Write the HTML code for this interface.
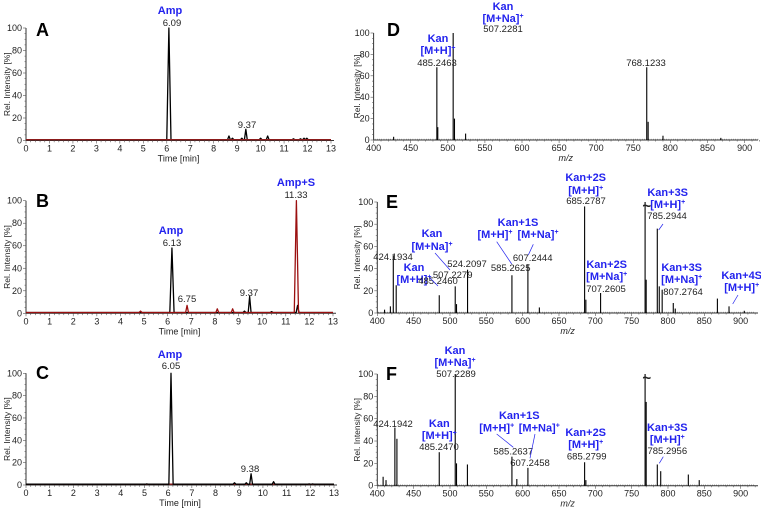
<!DOCTYPE html>
<html><head><meta charset="utf-8"><style>
html,body{margin:0;padding:0;background:#fff;}
svg{display:block;font-family:"Liberation Sans",Arial,sans-serif;}
.tk{font-size:9px;fill:#222;}
.ann{font-size:11px;font-weight:bold;fill:#2323ee;}
.num{font-size:9.5px;fill:#222;}
.let{font-size:18px;font-weight:bold;fill:#000;}
.yt{font-size:8.5px;fill:#222;}
</style></head><body>
<svg id="fig" width="761" height="508" viewBox="0 0 761 508"></svg>
<script>
// Chromatogram data (time min, relative intensity %)
const aBlackTimes=[6.09,8.65,8.8,9.2,9.37,10.0,10.3,11.4,11.7,11.85,11.97];
const aBlackVals=[100,4,2,2,10,2,4,1.5,1.5,2,2];
const bBlackTimes=[6.18,9.25,9.47,10.4,11.5];
const bBlackVals=[58,2,15,1.5,7];
const bRedTimes=[4.85,6.82,8.1,8.75,11.45];
const bRedVals=[2,7,4,4,100];
const cBlackTimes=[5.1,6.12,8.8,9.3,9.5,10.45,11.95,12.1];
const cBlackVals=[1,100,2,2,10,3,1,1];
// Mass spectra data (m/z, relative intensity %)
const dMz=[427,485.25,486.5,507.23,509,524,768.12,770,790,868];
const dVals=[3,68,12,100,20,6,68,17,4,2];
const eMz=[410,418,422,426,485.25,507.23,509,524.21,585.26,607.24,623,685.28,687,707.26,768.5,770,785.29,788,792,807.28,810,868,884,905];
const eVals=[3,6,52,25,16,24,8,39,34,44,5,96,12,18,100,30,76,24,21,9,4,13,6,2];
const fMz=[408,412,424.19,427,485.25,507.23,509,524,585.26,592,607.25,685.28,687,768.5,770,785.3,790,828,843];
const fVals=[8,5,52,42,30,100,20,19,26,6,16,21,5,100,75,19,13,10,5];
const chromTicks=[0,1,2,3,4,5,6,7,8,9,10,11,12,13];
const yTicks=[0,20,40,60,80,100];
const mzTicks=[400,450,500,550,600,650,700,750,800,850,900];

const NS="http://www.w3.org/2000/svg";
const svg=document.getElementById('fig');
function el(tag,attrs,parent,txt){const e=document.createElementNS(NS,tag);for(const k in attrs)e.setAttribute(k,attrs[k]);if(txt!==undefined)e.textContent=txt;(parent||svg).appendChild(e);return e;}

function axesY(g,x0,yb,yt){
  el('line',{x1:x0,y1:yb,x2:x0,y2:yt,stroke:'#333','stroke-width':1},g);
  for(let v=0;v<=100;v+=5){const y=yb-(yb-yt)*v/100;el('line',{x1:x0-(v%20==0?3:1.5),y1:y,x2:x0,y2:y,stroke:'#555','stroke-width':0.6},g);}
  yTicks.forEach(v=>{const y=yb-(yb-yt)*v/100;const t=el('text',{x:x0-4,y:y+3,'text-anchor':'end',class:'tk'},g,String(v));
  
  });
}
function yTitle(g,x,yc){const t=el('text',{x:x,y:yc,transform:`rotate(-90 ${x} ${yc})`,'text-anchor':'middle',class:'yt'},g,'Rel. Intensity [%]');
  
  }

function chrom(name,x0,x1,yb,yt,series){
  const g=el('g',{});
  
  
  const sx=t=>x0+(x1-x0)*t/13, sy=v=>yb-(yb-yt)*v/100;
  axesY(g,x0,yb,yt);
  yTitle(g,10,(yb+yt)/2);
  el('line',{x1:x0,y1:yb,x2:x1+3,y2:yb,stroke:'#333','stroke-width':1},g);
  for(let i=0;i<=130;i+=2){const t=i/10;el('line',{x1:sx(t),y1:yb,x2:sx(t),y2:yb+(i%10==0?3:1.8),stroke:'#555','stroke-width':0.6},g);}
  chromTicks.forEach(t=>{const l=el('text',{x:sx(t),y:yb+11,'text-anchor':'middle',class:'tk'},g,String(t));
    
    });
  const xt=el('text',{x:(x0+x1)/2,y:yb+21,'text-anchor':'middle',class:'tk'},g,'Time [min]');
  
  
  series.forEach(s=>{
    let d=`M${x0},${yb-0.8}`;
    const idx=s.t.map((t,i)=>i).sort((a,b)=>s.t[a]-s.t[b]);
    idx.forEach(i=>{const t=s.t[i],v=s.v[i],hw=v>30?0.09:0.06;d+=` L${sx(t-hw)},${yb-0.8} L${sx(t)},${sy(v)} L${sx(t+hw)},${yb-0.8}`;});
    d+=` L${x1},${yb-0.8}`;
    const p=el('path',{d:d,fill:'none',stroke:s.c,'stroke-width':1.3,'stroke-linejoin':'round'},g);
    
    
  });
  return g;
}
function spec(name,x400,ppu,yb,yt,mz,vals,xEnd){
  const g=el('g',{});
  
  
  const sx=m=>x400+(m-400)*ppu, sy=v=>yb-(yb-yt)*v/100;
  axesY(g,x400,yb,yt);
  yTitle(g,360,(yb+yt)/2);
  el('line',{x1:x400,y1:yb,x2:xEnd,y2:yb,stroke:'#333','stroke-width':1},g);
  for(let m=400;m<=920;m+=10){el('line',{x1:sx(m),y1:yb,x2:sx(m),y2:yb+(m%50==0?3:1.5),stroke:'#555','stroke-width':0.6},g);}
  mzTicks.forEach(m=>{const l=el('text',{x:sx(m),y:yb+11,'text-anchor':'middle',class:'tk'},g,String(m));
    
    });
  const xt=el('text',{x:(x400+xEnd)/2,y:yb+21,'text-anchor':'middle',class:'tk','font-style':'italic'},g,'m/z');
  
  
  let d='';for(let m=402;m<920;m+=3){d+=`M${sx(m)},${yb} L${sx(m)},${yb-1.2}`;}
  el('path',{d:d,stroke:'#444','stroke-width':0.5},g);
  mz.forEach((m,i)=>{const l=el('line',{x1:sx(m),y1:yb,x2:sx(m),y2:sy(vals[i]),stroke:'#000','stroke-width':1.1},g);
    
    });
  return g;
}
function txt(x,y,cls,s,name,anchor){const t=el('text',{x:x,y:y,class:cls,'text-anchor':anchor||'middle'});
  const parts=s.split('^');t.appendChild(document.createTextNode(parts[0]));
  if(parts[1]!==undefined){el('tspan',{dy:-4,'font-size':'7px'},t,parts[1]);}
  
  return t;}
function lead(x1,y1,x2,y2){const l=el('line',{x1:x1,y1:y1,x2:x2,y2:y2,stroke:'#2323ee','stroke-width':0.7});
  
  }

chrom('a',26,331,140.5,28,[{t:aBlackTimes,v:aBlackVals,c:'#000',n:'series-black'},{t:[],v:[],c:'#8b1a1a',n:'series-red'}]);
chrom('b',26,333,313.3,200.7,[{t:bBlackTimes,v:bBlackVals,c:'#000',n:'series-black'},{t:bRedTimes,v:bRedVals,c:'#9b1010',n:'series-red'}]);
chrom('c',26,334,485,373.3,[{t:[],v:[],c:'#8b1a1a',n:'series-red'},{t:cBlackTimes,v:cBlackVals,c:'#000',n:'series-black'}]);
spec('d',373.6,0.742,140,33,dMz,dVals,758);
spec('e',377.3,0.7267,313,202,eMz,eVals,758);
spec('f',377.3,0.7267,485.7,374,fMz,fVals,758);

txt(36,36,'let','A','panel-letter-a','start');
txt(36,207,'let','B','panel-letter-b','start');
txt(36,379,'let','C','panel-letter-c','start');
txt(387,36,'let','D','panel-letter-d','start');
txt(386,208,'let','E','panel-letter-e','start');
txt(386,380,'let','F','panel-letter-f','start');

txt(170,14,'ann','Amp','label-amp');txt(172,26,'num','6.09','label-6.09');txt(247,128,'num','9.37','label-9.37');
txt(296,186,'ann','Amp+S','label-amp-s');txt(296,198,'num','11.33','label-11.33');
txt(171,234,'ann','Amp','label-amp');txt(172,246,'num','6.13','label-6.13');
txt(187,302,'num','6.75','label-6.75');txt(249,296,'num','9.37','label-9.37');
txt(170,358,'ann','Amp','label-amp');txt(171,369,'num','6.05','label-6.05');txt(250,472,'num','9.38','label-9.38');
txt(503,10,'ann','Kan','label-kan');txt(503,22,'ann','[M+Na]^+','label-m-na');txt(503,32,'num','507.2281','label-507');
txt(438,42,'ann','Kan','label-kan');txt(438,54,'ann','[M+H]^+','label-m-h');txt(437,66,'num','485.2463','label-485');
txt(646,66,'num','768.1233','label-768');
txt(585.7,181,'ann','Kan+2S','label-kan-2s');txt(585.7,194,'ann','[M+H]^+','label-m-h');txt(586,204,'num','685.2787','label-685');
txt(667.7,196,'ann','Kan+3S','label-kan-3s');txt(667.7,208,'ann','[M+H]^+','label-m-h');txt(667,219,'num','785.2944','label-785');
lead(663,224,658.7,230);
txt(518,226,'ann','Kan+1S','label-kan-1s');txt(495,238,'ann','[M+H]^+','label-m-h');txt(538,238,'ann','[M+Na]^+','label-m-na');
txt(532.7,261,'num','607.2444','label-607');txt(510.7,271,'num','585.2625','label-585');
lead(496.7,241.7,511.7,264);lead(533.3,244.3,528.3,255);
txt(432,237,'ann','Kan','label-kan');txt(432,250,'ann','[M+Na]^+','label-m-na');lead(435,253,450,270);
txt(467,267,'num','524.2097','label-524');txt(452.7,278,'num','507.2279','label-507');
txt(414,271,'ann','Kan','label-kan');txt(414,283,'ann','[M+H]^+','label-m-h');txt(438,284,'num','485.2460','label-485');
lead(430,278,438,286);
txt(393,260,'num','424.1934','label-424');
txt(606.7,268,'ann','Kan+2S','label-kan-2s');txt(606.7,280,'ann','[M+Na]^+','label-m-na');txt(606,292,'num','707.2605','label-707');
txt(681.7,271,'ann','Kan+3S','label-kan-3s');txt(681.7,283,'ann','[M+Na]^+','label-m-na');txt(683,295,'num','807.2764','label-807');
txt(741.7,279,'ann','Kan+4S','label-kan-4s');txt(741.7,291,'ann','[M+H]^+','label-m-h');lead(738,295,732.7,304);
txt(646.7,211,'num','~','break-mark').setAttribute('style','font-size:15px;font-weight:bold');
txt(455,354,'ann','Kan','label-kan');txt(455,366,'ann','[M+Na]^+','label-m-na');txt(456,377,'num','507.2289','label-507');
txt(393,427,'num','424.1942','label-424');
txt(439.3,427,'ann','Kan','label-kan');txt(439.3,439,'ann','[M+H]^+','label-m-h');txt(439,450,'num','485.2470','label-485');
txt(519.3,419,'ann','Kan+1S','label-kan-1s');txt(496.7,431.5,'ann','[M+H]^+','label-m-h');txt(539.3,431.5,'ann','[M+Na]^+','label-m-na');
txt(513.3,454.3,'num','585.2637','label-585');txt(530,466,'num','607.2458','label-607');
lead(496.7,434,513.3,447.3);lead(535,434,530,458.3);
txt(585.7,436,'ann','Kan+2S','label-kan-2s');txt(585.7,448,'ann','[M+H]^+','label-m-h');txt(586.7,459.3,'num','685.2799','label-685');
txt(667.3,431,'ann','Kan+3S','label-kan-3s');txt(667.3,443,'ann','[M+H]^+','label-m-h');txt(667.3,454,'num','785.2956','label-785');
lead(663.3,456.7,659.3,463.3);
txt(646.7,383,'num','~','break-mark').setAttribute('style','font-size:15px;font-weight:bold');
</script>
</body></html>
